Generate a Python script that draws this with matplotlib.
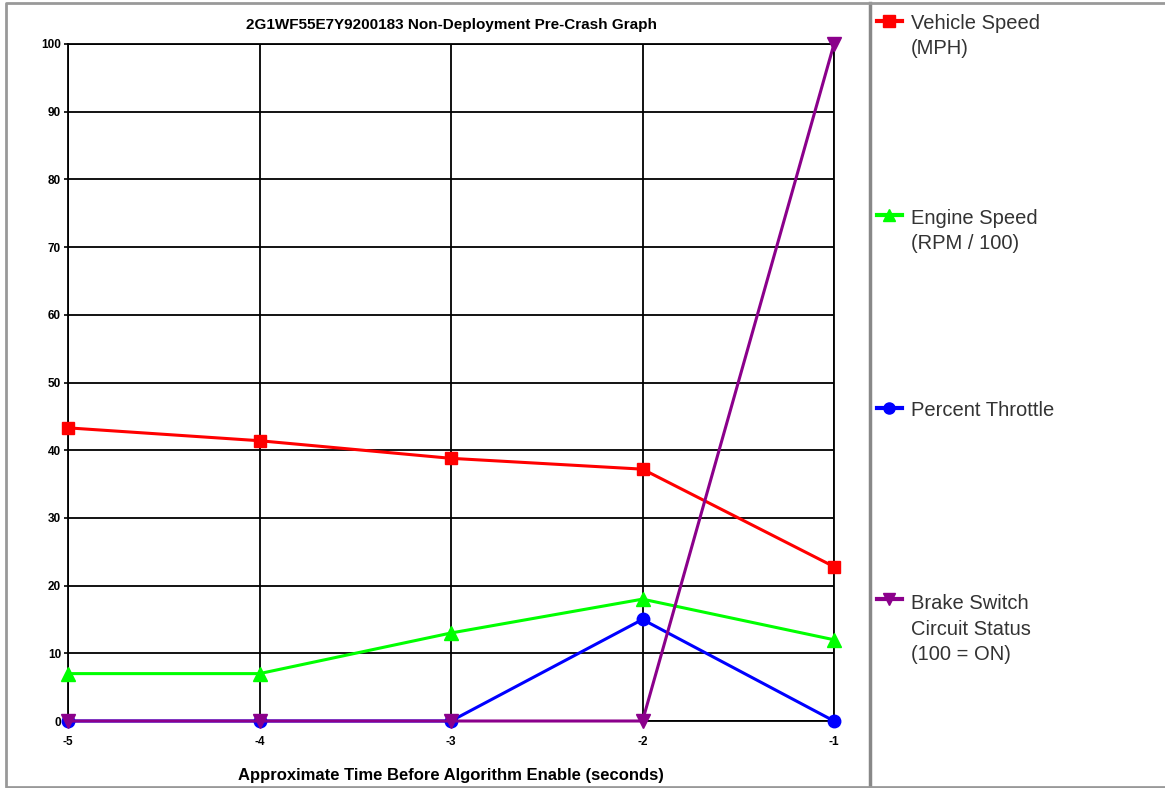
import matplotlib
matplotlib.use('Agg')
import matplotlib.pyplot as plt
from matplotlib.lines import Line2D

plt.rcParams['font.family'] = ['Liberation Sans', 'DejaVu Sans']

# data
times = [-5, -4, -3, -2, -1]
vehicle_speed = [43.3, 41.4, 38.8, 37.2, 22.8]
engine_speed = [7, 7, 13, 18, 12]
throttle = [0, 0, 0, 15, 0]
brake = [0, 0, 0, 0, 100]

y_ticks = [0, 10, 20, 30, 40, 50, 60, 70, 80, 90, 100]

title = '2G1WF55E7Y9200183 Non-Deployment Pre-Crash Graph'
xlabel = 'Approximate Time Before Algorithm Enable (seconds)'

W, H = 1165, 788
fig = plt.figure(figsize=(W/100, H/100), dpi=100)
ax = fig.add_axes([68/W, 1 - 721/H, (834-68)/W, (721-44)/H])

series = [
    (vehicle_speed, '#ff0000', 's', 9, 'Vehicle Speed\n(MPH)'),
    (engine_speed, '#00ff00', '^', 10, 'Engine Speed\n(RPM / 100)'),
    (throttle, '#0000ff', 'o', 9, 'Percent Throttle'),
    (brake, '#8b008b', 'v', 10, 'Brake Switch\nCircuit Status\n(100 = ON)'),
]
for vals, col, mk, ms, lab in series:
    ax.plot(times, vals, color=col, marker=mk, markersize=ms, lw=2.2,
            clip_on=False, zorder=3)

ax.set_xlim(-5, -1)
ax.set_ylim(0, 100)
ax.set_xticks(times)
ax.set_yticks(y_ticks)
ax.set_xticklabels([str(t) for t in times], fontsize=8.5, fontweight='bold')
ax.set_yticklabels([str(v) for v in y_ticks], fontsize=8.5, fontweight='bold')
ax.tick_params(axis='both', length=3, width=1.2, color='black', pad=2)
ax.tick_params(axis='x', length=0, pad=11)
ax.grid(True, color='black', lw=1.3)
ax.set_axisbelow(True)
for s in ax.spines.values():
    s.set_linewidth(1.3)
    s.set_color('black')

ax.set_title(title, fontsize=11, fontweight='bold', pad=11)
ax.set_xlabel(xlabel, fontsize=12, fontweight='bold', labelpad=14)

# legend on the right side (marker y, first-line baseline y in pixels)
line_gap = 25
leg_pos = [(21, 29), (215, 224), (408, 416), (599, 610)]
for (vals, col, mk, ms, lab), (my, ty) in zip(series, leg_pos):
    fy = 1 - my / H
    fig.add_artist(Line2D([877/W, 902/W], [fy, fy], color=col, lw=3))
    fig.add_artist(Line2D([889/W], [fy], color=col, marker=mk, markersize=ms - 1))
    n = lab.count('\n')
    fig.text(911/W, 1 - (ty + n*line_gap)/H, lab, fontsize=14.5, color='#333333',
             va='baseline', ha='left', linespacing=1.42)

# frame and separator
fig.add_artist(Line2D([870/W, 870/W], [0, 1 - 3/H], color='#888888', lw=2.5))
fig.add_artist(Line2D([1, 6/W, 6/W, 1], [1 - 3/H, 1 - 3/H, 1/H, 1/H],
                      color='#999999', lw=2))

fig.savefig('out.png', dpi=100)
